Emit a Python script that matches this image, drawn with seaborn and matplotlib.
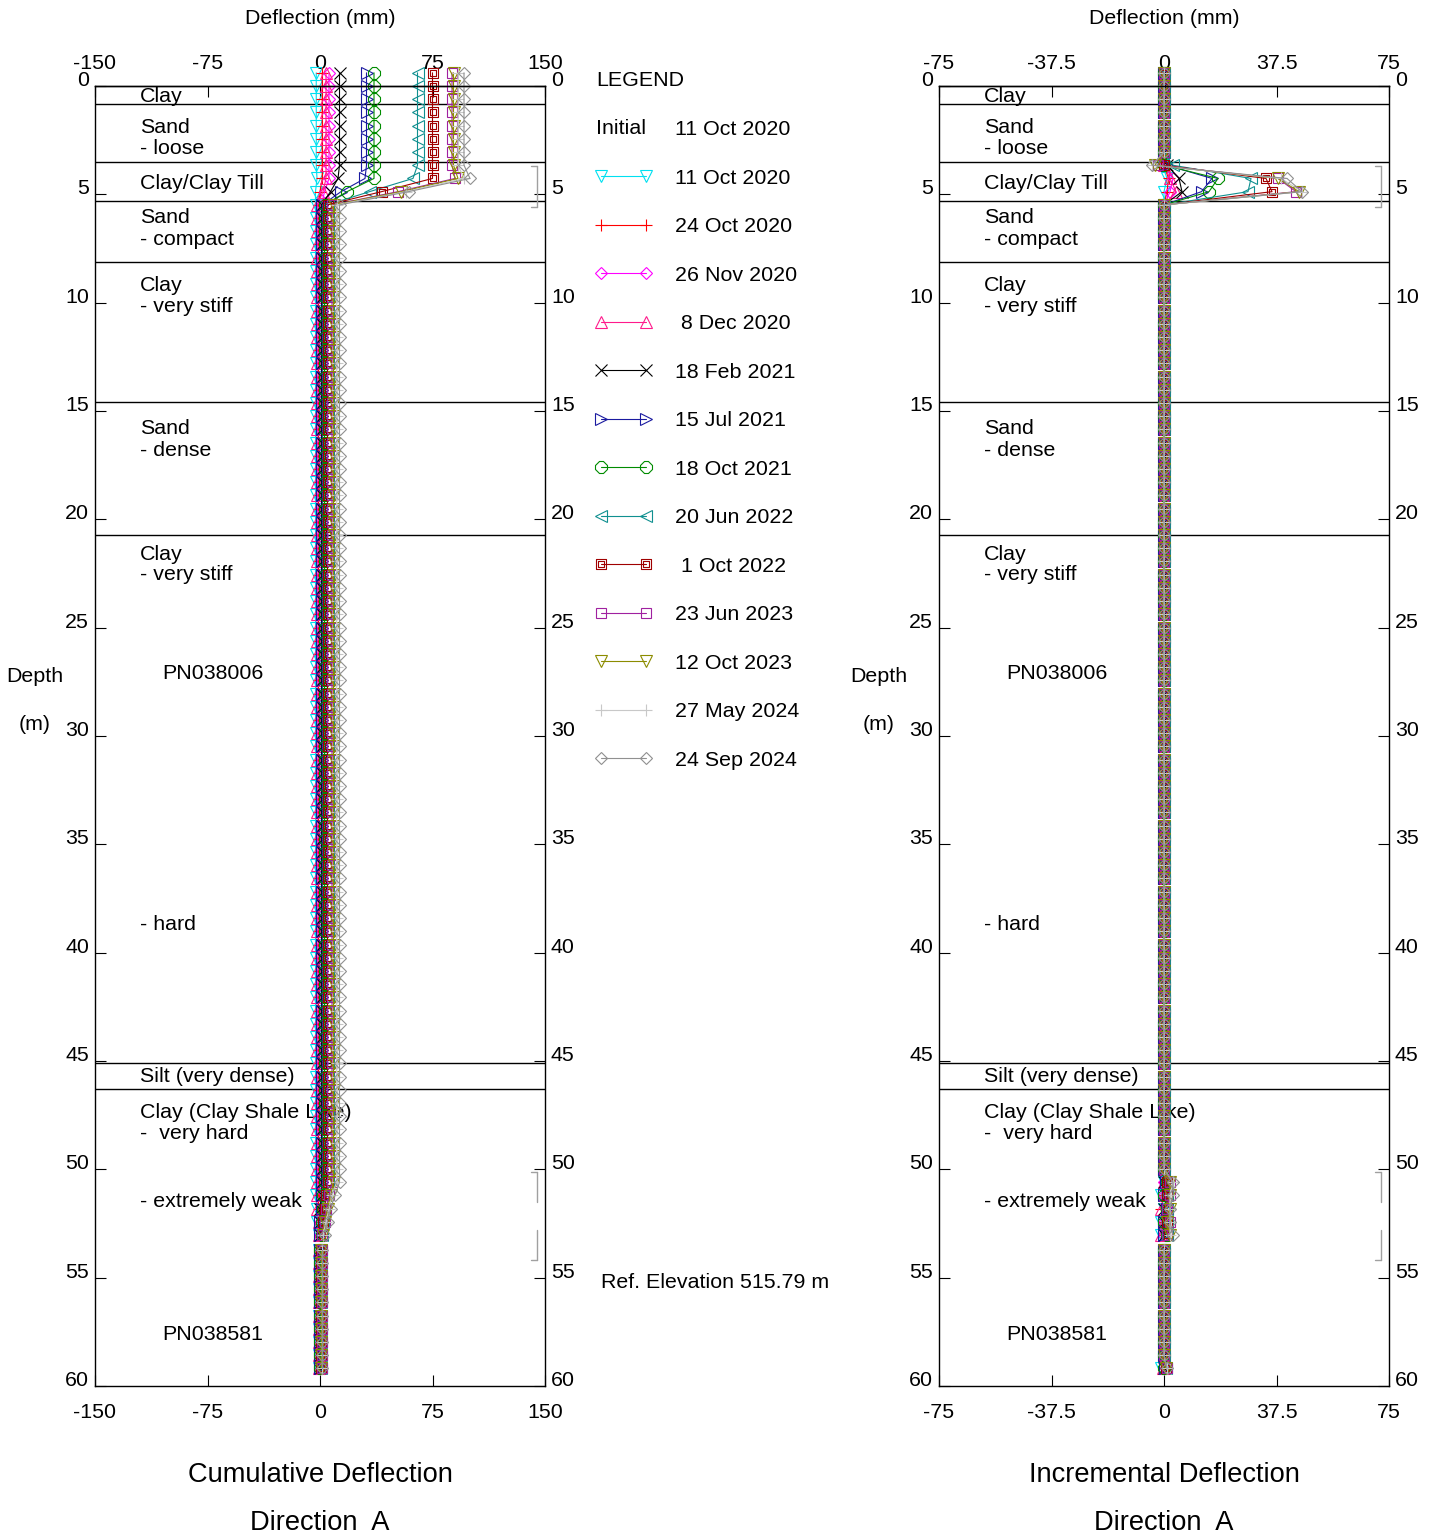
import numpy as np
import pandas as pd
import seaborn as sns
import matplotlib.pyplot as plt
from matplotlib.lines import Line2D
from matplotlib.legend_handler import HandlerLine2D
from matplotlib.path import Path

sns.set_style("white")
plt.rcParams['font.family'] = ['Liberation Sans', 'DejaVu Sans']
plt.rcParams.update({'text.color': 'black', 'xtick.color': 'black', 'ytick.color': 'black',
                     'axes.labelcolor': 'black', 'axes.edgecolor': 'black'})

# survey dates (first one is also the initial reading)
dates = ["11 Oct 2020", "24 Oct 2020", "26 Nov 2020", " 8 Dec 2020", "18 Feb 2021",
         "15 Jul 2021", "18 Oct 2021", "20 Jun 2022", " 1 Oct 2022", "23 Jun 2023",
         "12 Oct 2023", "27 May 2024", "24 Sep 2024"]

# cumulative deflection (mm), PN038006, by zone of readings
cum_top = [-2.5, 1.5, 6, 4, 13, 31, 36, 65, 75, 88, 89, 92, 96]        # -0.6 .. 3.7 m
cum_427 = [-2, 1.5, 6, 4, 12, 30, 36, 62, 75, 90, 92, 96, 100]         # 4.3 m
cum_488 = [-3, 0, 3, 2, 7, 14, 18, 33, 41, 52, 54, 57, 59]             # 4.9 m
cum_body = [-3, -1, 1, -2, 1, 1.5, 3, 5, 5, 8, 9, 11, 13]              # 5.5 .. 50.6 m
cum_tail = [[-3, -2, -2, -1], [-1, -1, 0, 0], [1, 1, 0, 0], [-2, -2, -1, -1],
            [1, 0, 0, 0], [1, 1, 0, 0], [2, 2, 1, 1], [4, 3, 2, 1],
            [4, 3, 2, 1], [6, 4, 3, 1], [7, 5, 3, 2], [8, 6, 4, 2],
            [10, 7, 5, 3]]                                             # 51.2 .. 53.0 m
# cumulative deflection (mm), PN038581 (lower probe)
cum_lower = [-1, 0, 0.5, -0.5, 0, 0.3, 0, 0.5, 0.5, 1, 0.5, 1, 1]

upper_depth = np.arange(-1, 88) * 0.6096          # readings every 2 ft
lower_depth = 53.7 + np.arange(10) * 0.6096

# soil log
layer_bounds = [0.83, 3.5, 5.3, 8.1, 14.6, 20.7, 45.1, 46.3]
soil_text = [("Clay", 0.5), ("Sand", 1.9), ("- loose", 2.9), ("Clay/Clay Till", 4.5),
             ("Sand", 6.05), ("- compact", 7.1), ("Clay", 9.2), ("- very stiff", 10.2),
             ("Sand", 15.8), ("- dense", 16.8), ("Clay", 21.6), ("- very stiff", 22.55),
             ("- hard", 38.7), ("Silt (very dense)", 45.7), ("Clay (Clay Shale Like)", 47.4),
             ("-  very hard", 48.35), ("- extremely weak", 51.5)]
probe_text = [("PN038006", 27.1), ("PN038581", 57.6)]
brackets = [(3.7, 5.6, True, True), (50.1, 51.5, True, False), (52.8, 54.2, False, True)]

colors = ['#00E0F0', '#FF0000', '#FF00FF', '#FF1A8C', '#000000', '#1A1AA0', '#008C00',
          '#109090', '#A00000', '#A020A0', '#8C8C00', '#C8C8C8', '#909090']
box_in_box = Path([(-1, -1), (1, -1), (1, 1), (-1, 1), (-1, -1),
                   (-0.5, -0.5), (0.5, -0.5), (0.5, 0.5), (-0.5, 0.5), (-0.5, -0.5)],
                  [1, 2, 2, 2, 79, 1, 2, 2, 2, 79])
markers = ['v', '+', 'D', '^', 'x', '>', '8', '<', box_in_box, 's', 'v', '+', 'D']
msizes = [8.5, 9, 6.5, 8.5, 8.5, 8.5, 9, 8.5, 7.5, 7.5, 8.5, 9, 6.5]

rows = []
for i, d in enumerate(dates):
    up = np.concatenate([np.full(8, cum_top[i]), [cum_427[i], cum_488[i]],
                         np.full(75, cum_body[i]), cum_tail[i]])
    lo = np.full(len(lower_depth), cum_lower[i])
    for probe, depth, cum in (("PN038006", upper_depth, up), ("PN038581", lower_depth, lo)):
        inc = cum - np.append(cum[1:], 0)
        for z, c, n in zip(depth, cum, inc):
            rows.append({"date": d, "probe": probe, "depth": z, "cum": c, "inc": n})
df = pd.DataFrame(rows)

fs = 15.4
fig = plt.figure(figsize=(14.34, 15.39), dpi=100)
W, H = 1434, 1539
ax_cum = fig.add_axes([95 / W, 1 - 1386 / H, 450 / W, 1300 / H])
ax_inc = fig.add_axes([939 / W, 1 - 1386 / H, 450 / W, 1300 / H])

for i, d in enumerate(dates):
    sub = df[df.date == d]
    for ax, col in ((ax_cum, "cum"), (ax_inc, "inc")):
        sns.lineplot(data=sub, x=col, y="depth", units="probe", estimator=None, sort=False,
                     color=colors[i], marker=markers[i], markersize=msizes[i],
                     markeredgecolor=colors[i], markerfacecolor='none', markeredgewidth=0.8,
                     linewidth=0.8, clip_on=False, legend=False, ax=ax)

panels = [(ax_cum, 150, [-150, -75, 0, 75, 150], ["-150", "-75", "0", "75", "150"], 320,
           "Cumulative Deflection", 35),
          (ax_inc, 75, [-75, -37.5, 0, 37.5, 75], ["-75", "-37.5", "0", "37.5", "75"], 1164,
           "Incremental Deflection", 879)]
for ax, lim, xt, xl, xc, title, lx in panels:
    ax.set_xlim(-lim, lim)
    ax.set_ylim(60, 0)
    ax.set_xlabel("")
    ax.set_ylabel("")
    ax.set_xticks(xt)
    ax.set_xticklabels(xl)
    ax.set_yticks(range(0, 61, 5))
    ax.tick_params(axis='x', direction='in', length=8, width=0.8, labelsize=fs, pad=12.5,
                   bottom=True, top=False)
    ax.tick_params(axis='y', direction='in', length=8, width=0.8, labelsize=fs, pad=4.3,
                   left=True, right=True, labelleft=True, labelright=True)
    for t in ax.yaxis.get_major_ticks():
        t.label1.set_va('baseline')
        t.label2.set_va('baseline')
    sec = ax.secondary_xaxis('top')
    sec.set_xticks(xt)
    sec.set_xticklabels(xl)
    sec.tick_params(direction='in', length=8, width=0.8, labelsize=fs, pad=9.5)
    sec.spines['top'].set_linewidth(1)
    for s in ax.spines.values():
        s.set_color('black')
        s.set_linewidth(1)
    for b in layer_bounds:
        ax.axhline(b, color='black', lw=1, zorder=1)
    for txt, z in soil_text:
        ax.text(0.1, z, txt, transform=ax.get_yaxis_transform(), fontsize=fs,
                va='center', ha='left', zorder=1.5)
    for txt, z in probe_text:
        ax.text(0.149, z, txt, transform=ax.get_yaxis_transform(), fontsize=fs,
                va='center', ha='left', zorder=1.5)
    tr = ax.get_yaxis_transform()
    for z0, z1, hook_top, hook_bot in brackets:
        ax.plot([0.982, 0.982], [z0, z1], color='#A0A0A0', lw=1, transform=tr, clip_on=False)
        if hook_top:
            ax.plot([0.969, 0.982], [z0, z0], color='#A0A0A0', lw=1, transform=tr)
        if hook_bot:
            ax.plot([0.969, 0.982], [z1, z1], color='#A0A0A0', lw=1, transform=tr)
    fig.text(xc / W, 1 - 18 / H, "Deflection (mm)", fontsize=fs, ha='center', va='center')
    fig.text(xc / W, 1 - 1475 / H, title, fontsize=19.6, ha='center', va='center')
    fig.text(xc / W, 1 - 1523 / H, "Direction  A", fontsize=19.6, ha='center', va='center')
    fig.text(lx / W, 1 - 676 / H, "Depth", fontsize=fs, ha='center', va='center')
    fig.text(lx / W, 1 - 725 / H, "(m)", fontsize=fs, ha='center', va='center')

# legend
handles = [Line2D([], [], linestyle='none')]
for i in range(len(dates)):
    handles.append(Line2D([], [], color=colors[i], marker=markers[i], markersize=msizes[i],
                          markeredgecolor=colors[i], markerfacecolor='none',
                          markeredgewidth=0.8, linewidth=0.8))
labels = [dates[0]] + dates
fig.legend(handles, labels, loc='upper left', bbox_to_anchor=(601 / W, 1 - 120 / H),
           frameon=False, fontsize=fs, numpoints=2, handlelength=2.1, handletextpad=1.36,
           labelspacing=1.38, borderpad=0, borderaxespad=0,
           handler_map={Line2D: HandlerLine2D(marker_pad=0)})
fig.text(596 / W, 1 - 80 / H, "LEGEND", fontsize=fs, ha='left', va='center')
fig.text(596 / W, 1 - 129 / H, "Initial", fontsize=fs, ha='left', va='center')
fig.text(601 / W, 1 - 1282 / H, "Ref. Elevation 515.79 m", fontsize=fs, ha='left', va='center')

fig.savefig("out.png", dpi=100, facecolor='white')
